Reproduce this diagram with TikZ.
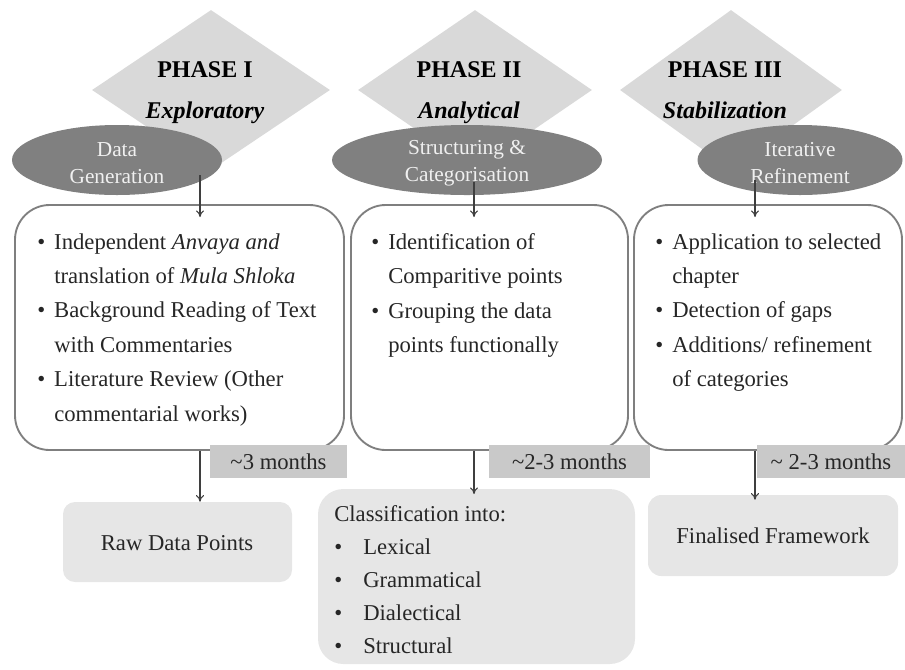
\documentclass[tikz,border=0pt]{standalone}
\usepackage{fontspec}
\setmainfont{Liberation Serif}
\usetikzlibrary{shapes.geometric,fit,arrows.meta}
\definecolor{diamgray}{HTML}{D9D9D9}
\definecolor{ellgray}{HTML}{808080}
\definecolor{ell text}{HTML}{F0F0F0}
\definecolor{boxline}{HTML}{7F7F7F}
\definecolor{bodytext}{HTML}{262626}
\definecolor{outgray}{HTML}{E6E6E6}
\definecolor{timegray}{HTML}{C9C9C9}
\definecolor{arrowgray}{HTML}{3F3F3F}
\newcommand\mybul{\makebox[12.75pt][l]{•}}
\newcommand\myind{\hspace*{12.75pt}}
\newcommand\mybulw{\makebox[21.75pt][l]{•}}
\begin{document}
\begin{tikzpicture}[x=0.75pt,y=-0.75pt,
  phase/.style={diamond, fill=diamgray, draw=none, inner sep=0pt, minimum height=120pt},
  stage/.style={ellipse, fill=ellgray, draw=none, inner sep=0pt, minimum height=52.5pt},
  stagetext/.style={text=ell text, align=center, inner sep=0pt, font=\fontsize{16}{20}\selectfont},
  headbold/.style={anchor=base, inner sep=0pt, font=\fontsize{18}{22}\selectfont\bfseries, text=black},
  headital/.style={anchor=base, inner sep=0pt, font=\fontsize{18}{22}\selectfont\bfseries\itshape, text=black},
  mainbox/.style={draw=boxline, line width=1.4pt, rounded corners=26pt, inner sep=0pt},
  bodytext/.style={anchor=north west, align=left, inner sep=0pt, text=bodytext, font=\fontsize{17}{25.8}\selectfont},
  outbox/.style={fill=outgray, draw=none, inner sep=0pt},
  timebox/.style={fill=timegray, draw=none, inner sep=0pt},
  plain/.style={inner sep=0pt, text=bodytext, font=\fontsize{17}{24.75}\selectfont},
  arr/.style={draw=arrowgray, line width=0.8pt, -{To[length=5pt,width=6pt]}}
]
\useasboundingbox (0,0) rectangle (905,669);

% phase diamonds
\node[phase, minimum width=178.5pt] (d1) at (211,90) {};
\node[phase, minimum width=175.5pt] (d2) at (475,90) {};
\node[phase, minimum width=166.5pt] (d3) at (731,90) {};

% headings
\node[headbold] (h1) at (205,77) {PHASE I};
\node[headital] (h1b) at (205,118) {Exploratory};
\node[headbold] (h2) at (469,77) {PHASE II};
\node[headital] (h2b) at (469,118) {Analytical};
\node[headbold] (h3) at (725,77) {PHASE III};
\node[headital] (h3b) at (725,118) {Stabilization};

% stage ellipses
\node[stage, minimum width=157.5pt] (e1) at (117,160) {};
\node[stage, minimum width=202.5pt] (e2) at (467,160) {};
\node[stage, minimum width=153.75pt] (e3) at (800,160) {};
\node[stagetext] (e1t) at (117,163) {Data\\Generation};
\node[stagetext] (e2t) at (467,163) {Structuring \&\\Categorisation};
\node[stagetext] (e3t) at (800,163) {Iterative\\Refinement};

% main boxes
\node[mainbox, fit={(15,205) (344,450)}] (b1) {};
\node[mainbox, fit={(351,205) (628,450)}] (b2) {};
\node[mainbox, fit={(634,205) (902,450)}] (b3) {};

\node[bodytext] (b1t) at (37,233) {\mybul Independent \textit{Anvaya and}\\
\myind translation of \textit{Mula Shloka}\\
\mybul Background Reading of Text\\
\myind with Commentaries\\
\mybul Literature Review (Other\\
\myind commentarial works)};
\node[bodytext] (b2t) at (371,233) {\mybul Identification of\\
\myind Comparitive points\\
\mybul Grouping the data\\
\myind points functionally};
\node[bodytext] (b3t) at (655,233) {\mybul Application to selected\\
\myind chapter\\
\mybul Detection of gaps\\
\mybul Additions/ refinement\\
\myind of categories};

% arrow anchor coordinates
\coordinate (x1) at (200,175);
\coordinate (x2) at (474,182);
\coordinate (x3) at (755,180);

\draw[arr, shorten >=-9.75pt] (x1) -- (x1 |- b1.north);
\draw[arr, shorten >=-9.75pt] (x2) -- (x2 |- b2.north);
\draw[arr, shorten >=-9.75pt] (x3) -- (x3 |- b3.north);

% outcome boxes
\node[outbox, rounded corners=9pt, fit={(63,502) (292,582)}] (raw) {};
\node[plain] (rawt) at (177,543) {Raw Data Points};
\node[outbox, rounded corners=19pt, fit={(318,489) (635,664)}] (cls) {};
\node[plain, anchor=north west, align=left] (clst) at (334,505) {Classification into:\\
\mybulw Lexical\\
\mybulw Grammatical\\
\mybulw Dialectical\\
\mybulw Structural};
\node[outbox, rounded corners=10pt, fit={(648,495) (898,576)}] (fin) {};
\node[plain] (fint) at (773,536) {Finalised Framework};

\draw[arr] (x1 |- b1.south) -- (x1 |- raw.north);
\draw[arr, shorten >=-4pt] (x2 |- b2.south) -- (x2 |- cls.north);
\draw[arr, shorten >=-3.75pt] (x3 |- b3.south) -- (x3 |- fin.north);

% duration labels
\node[timebox, fit={(210,445) (347,478)}] (t1) {};
\node[plain] at (t1.center) {\textasciitilde3 months};
\node[timebox, fit={(489,445) (650,478)}] (t2) {};
\node[plain] at (t2.center) {\textasciitilde2-3 months};
\node[timebox, fit={(757,445) (905,478)}] (t3) {};
\node[plain] at (t3.center) {\textasciitilde\ 2-3 months};
\end{tikzpicture}
\end{document}
